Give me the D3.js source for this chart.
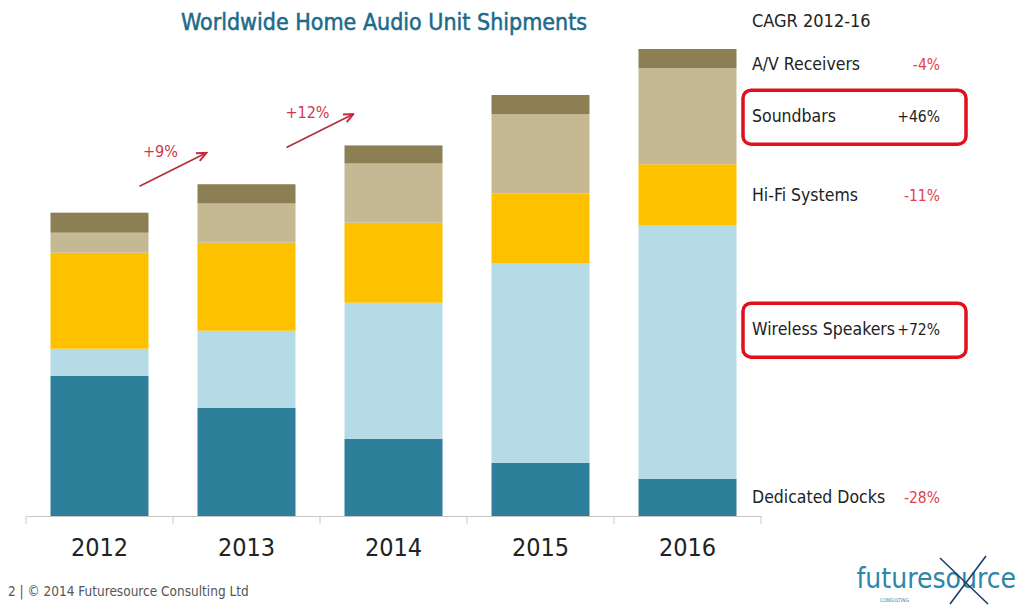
<!DOCTYPE html>
<html>
<head>
<meta charset="utf-8">
<script src="https://cdn.jsdelivr.net/npm/d3@7"></script>
<style>
  body{margin:0;background:#fff;}
  text{font-family:"DejaVu Sans Condensed","DejaVu Sans",sans-serif;font-stretch:condensed;}
</style>
</head>
<body>
<svg id="chart" width="1020" height="605"></svg>
<script>
// data (millions of units, approx)
var years=["2012","2013","2014","2015","2016"];
var segments=["Dedicated Docks","Wireless Speakers","Hi-Fi Systems","Soundbars","A/V Receivers"];
var docks   =[35.0,27.0,19.3,13.3,9.3];
var wireless=[6.8,19.3,34.0,49.8,63.3];
var hifi    =[24.0,22.0,20.0,17.5,15.3];
var soundbar=[5.0,9.8,14.8,19.8,24.0];
var avr     =[5.0,4.8,4.5,4.8,4.8];
var cagr    =["-28%","+72%","-11%","+46%","-4%"];
var growth  =[{from:0,label:"+9%"},{from:1,label:"+12%"}];
var colors  =["#2e7f9a","#b5dbe7","#fdc100","#c4b992","#8c7f53"];

var rows=years.map(function(y,i){
  return {year:y,"Dedicated Docks":docks[i],"Wireless Speakers":wireless[i],
    "Hi-Fi Systems":hifi[i],"Soundbars":soundbar[i],"A/V Receivers":avr[i]};
});
var stack=d3.stack().keys(segments)(rows);
var tops=stack[stack.length-1];
var maxTotal=d3.max(tops,function(d){return d[1];});

var svg=d3.select("#chart");
var x=d3.scaleBand().domain(years).range([26,761]).paddingInner(1/3).paddingOuter(1/6);
var y=d3.scaleLinear().domain([0,maxTotal]).range([516,49]);

// title
svg.append("text")
  .attr("x",384).attr("y",30)
  .attr("text-anchor","middle")
  .attr("fill","#1d6a8a")
  .attr("stroke","#1d6a8a").attr("stroke-width",0.5)
  .attr("font-size","23px")
  .text("Worldwide Home Audio Unit Shipments");

// bars
svg.append("g").selectAll("g")
  .data(stack)
  .enter().append("g")
    .attr("fill",function(d,i){return colors[i];})
  .selectAll("rect")
  .data(function(d){return d;})
  .enter().append("rect")
    .attr("x",function(d){return x(d.data.year);})
    .attr("width",x.bandwidth())
    .attr("y",function(d){return y(d[1]);})
    .attr("height",function(d){return y(d[0])-y(d[1]);});

// x axis
var axis=svg.append("g")
  .attr("transform","translate(0,"+y(0)+")")
  .call(d3.axisBottom(x).tickSize(0).tickPadding(22));
axis.select(".domain").attr("stroke","#c8c8c8");
axis.selectAll("text")
  .attr("font-size","25px")
  .attr("fill","#222")
  .style("font-family","\"DejaVu Sans Condensed\",\"DejaVu Sans\",sans-serif");
// band boundary ticks
var bounds=years.map(function(d){return x(d)-x.step()*x.paddingInner()/2;});
bounds.push(x(years[years.length-1])+x.bandwidth()+x.step()*x.paddingInner()/2);
svg.append("g").selectAll("line")
  .data(bounds).enter().append("line")
  .attr("x1",function(d){return d;}).attr("x2",function(d){return d;})
  .attr("y1",y(0)).attr("y2",y(0)+8)
  .attr("stroke","#c8c8c8");

// growth arrows
var defs=svg.append("defs");
defs.append("marker").attr("id","ah")
  .attr("viewBox","0 0 10 10").attr("refX",8).attr("refY",5)
  .attr("markerWidth",6).attr("markerHeight",6).attr("orient","auto")
  .append("path").attr("d","M0,1 L9,5 L0,9").attr("fill","none")
  .attr("stroke","#c8283c").attr("stroke-width",1.8);
function arrowEnd(d){return [x(years[d.from+1])+8,y(tops[d.from+1][1])-31];}
var ga=svg.append("g").selectAll("g").data(growth).enter().append("g");
ga.append("line")
  .attr("x1",function(d){return arrowEnd(d)[0]-66;})
  .attr("y1",function(d){return arrowEnd(d)[1]+33;})
  .attr("x2",function(d){return arrowEnd(d)[0];})
  .attr("y2",function(d){return arrowEnd(d)[1];})
  .attr("stroke","#b0303e").attr("stroke-width",1.8)
  .attr("marker-end","url(#ah)");
ga.append("text")
  .attr("x",function(d){return arrowEnd(d)[0]-33-12;})
  .attr("y",function(d){return arrowEnd(d)[1]+16-18+6;})
  .attr("text-anchor","middle")
  .attr("fill","#d0384a")
  .attr("font-size","16px")
  .text(function(d){return d.label;});

// legend / CAGR column
svg.append("text").attr("x",752).attr("y",27)
  .attr("font-size","18px").attr("fill","#222").text("CAGR 2012-16");
var last=years.length-1;
var nudge={"A/V Receivers":5,"Wireless Speakers":-23};
var legendY=stack.map(function(s,i){
  var c=(y(s[last][0])+y(s[last][1]))/2;
  return c+(nudge[segments[i]]||0);
});
var lg=svg.append("g").selectAll("g").data(segments).enter().append("g");
lg.append("text")
  .attr("x",752).attr("y",function(d,i){return legendY[i]+6;})
  .attr("font-size","17.5px").attr("fill","#222")
  .text(function(d){return d;});
lg.append("text")
  .attr("x",940).attr("y",function(d,i){return legendY[i]+6;})
  .attr("text-anchor","end")
  .attr("font-size","15.5px")
  .attr("fill",function(d,i){return cagr[i].charAt(0)==="+"?"#222":"#e0404e";})
  .text(function(d,i){return cagr[i];});
// highlight boxes
var hl=["Soundbars","Wireless Speakers"];
svg.append("g").selectAll("rect").data(hl).enter().append("rect")
  .attr("x",743).attr("width",223)
  .attr("y",function(d){return legendY[segments.indexOf(d)]-26;})
  .attr("height",54).attr("rx",8)
  .attr("fill","none").attr("stroke","#e0101c").attr("stroke-width",3.5);

// footer
svg.append("text").attr("x",8).attr("y",596)
  .attr("font-size","13.5px").attr("fill","#555")
  .text("2  |  \u00a9 2014 Futuresource Consulting Ltd");

// logo
var logo=svg.append("g");
logo.append("text").attr("x",1016).attr("y",588)
  .attr("text-anchor","end").attr("font-size","28px").attr("fill","#2c86a8")
  .text("futuresource");
logo.append("path").attr("d","M940,558 L988,604 M986,556 L950,604")
  .attr("stroke","#1c3f6e").attr("stroke-width",1.6).attr("fill","none");
logo.append("text").attr("x",880).attr("y",602)
  .attr("font-size","5px").attr("fill","#2c86a8").text("CONSULTING");
</script>
</body>
</html>
